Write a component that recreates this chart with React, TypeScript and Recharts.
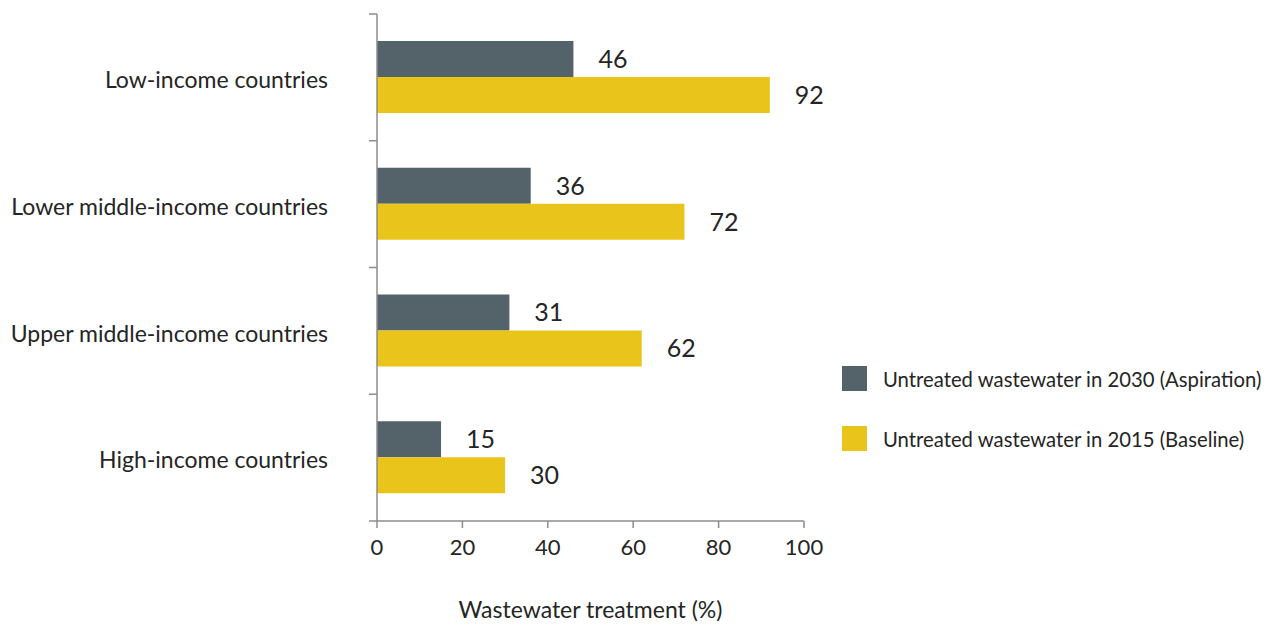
import { BarChart, Bar, XAxis, YAxis, LabelList, Legend } from "recharts";

const categories = [
  "Low-income countries",
  "Lower middle-income countries",
  "Upper middle-income countries",
  "High-income countries",
];
const aspiration2030 = [46, 36, 31, 15];
const baseline2015 = [92, 72, 62, 30];
const xTicks = [0, 20, 40, 60, 80, 100];

const data = categories.map((name, i) => ({
  name,
  aspiration: aspiration2030[i],
  baseline: baseline2015[i],
}));

const W = 1266;
const H = 624;
const M = { top: 14, right: 462, bottom: 0, left: 0 };
const Y_W = 377;
const X_H = 103;
const BAND = (H - M.top - M.bottom - X_H) / categories.length;

const DARK = "#546369";
const YELLOW = "#E9C41B";
const AXIS = "#8c8c8c";
const TEXT = "#252525";
const FONT = "Lato, 'Noto Sans', sans-serif";

const legendItems = [
  { label: "Untreated wastewater in 2030 (Aspiration)", color: DARK },
  { label: "Untreated wastewater in 2015 (Baseline)", color: YELLOW },
];

function CategoryTick(props: any) {
  const { x, y, payload, index } = props;
  return (
    <g>
      <line x1={x - 8} x2={x} y1={y - BAND / 2} y2={y - BAND / 2} stroke={AXIS} strokeWidth={1.5} />
      {index === categories.length - 1 && (
        <line x1={x - 8} x2={x} y1={y + BAND / 2} y2={y + BAND / 2} stroke={AXIS} strokeWidth={1.5} />
      )}
      <text
        x={x - 49}
        y={y + 5}
        textAnchor="end"
        dominantBaseline="middle"
        fontSize={23}
        fill={TEXT}
        fontFamily={FONT}
      >
        {payload.value}
      </text>
    </g>
  );
}

function LegendContent() {
  return (
    <div style={{ fontFamily: FONT, fontSize: 20.3, color: TEXT }}>
      {legendItems.map((it) => (
        <div key={it.label} style={{ display: "flex", alignItems: "center", height: 25, marginBottom: 35 }}>
          <span style={{ width: 25, height: 25, background: it.color, display: "inline-block", marginRight: 16 }} />
          <span style={{ whiteSpace: "nowrap" }}>{it.label}</span>
        </div>
      ))}
    </div>
  );
}

export default function App() {
  return (
    <div style={{ position: "absolute", left: 0, top: 0, width: W, height: H, background: "#fff" }}>
      <BarChart
        width={W}
        height={H}
        data={data}
        layout="vertical"
        margin={M}
        barGap={0}
        barSize={36}
        style={{ fontFamily: FONT }}
      >
        <XAxis
          type="number"
          domain={[0, 100]}
          ticks={xTicks}
          height={X_H}
          stroke={AXIS}
          strokeWidth={1.5}
          tickSize={7}
          tickMargin={11}
          tick={{ fontSize: 22, fill: TEXT, fontFamily: FONT }}
          label={{
            value: "Wastewater treatment (%)",
            position: "insideBottom",
            offset: 6,
            fontSize: 23,
            fill: TEXT,
            fontFamily: FONT,
          }}
        />
        <YAxis
          type="category"
          dataKey="name"
          width={Y_W}
          stroke={AXIS}
          strokeWidth={1.5}
          tickLine={false}
          tickSize={0}
          tickMargin={0}
          tick={<CategoryTick />}
          interval={0}
        />
        <Legend
          layout="horizontal"
          verticalAlign="middle"
          align="center"
          content={<LegendContent />}
          wrapperStyle={{ left: 842, top: 366, width: 424, height: 90 }}
        />
        <Bar dataKey="aspiration" fill={DARK} isAnimationActive={false}>
          <LabelList dataKey="aspiration" position="right" offset={25} fontSize={25} fill={TEXT} fontFamily={FONT} />
        </Bar>
        <Bar dataKey="baseline" fill={YELLOW} isAnimationActive={false}>
          <LabelList dataKey="baseline" position="right" offset={25} fontSize={25} fill={TEXT} fontFamily={FONT} />
        </Bar>
      </BarChart>
    </div>
  );
}
